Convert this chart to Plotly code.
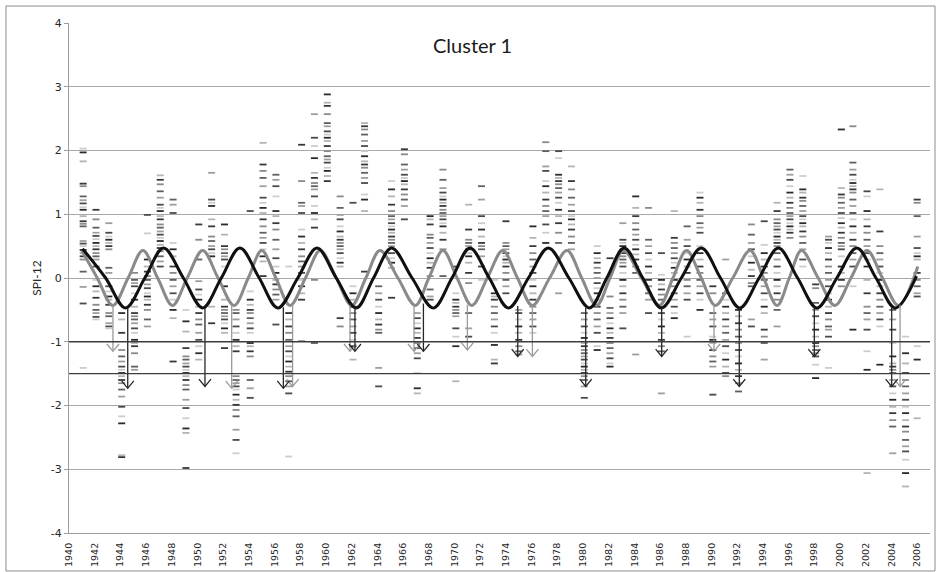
import plotly.graph_objects as go

# ---------------- data ----------------
col_years_1940s = [1941.1, 1942.1, 1943.1, 1944.1, 1945.1, 1946.1, 1947.1, 1948.1, 1949.1, 1950.1]
spi_1940s = [
    [2.03, 1.97, 1.83, 1.48, 1.44, 1.28, 1.22, 1.17, 1.11, 1.07, 0.97, 0.89, 0.85, 0.81, 0.58, 0.54, 0.50, 0.44, 0.39, 0.34, 0.29, 0.10, -0.14, -0.40, -1.41],
    [1.07, 0.92, 0.79, 0.71, 0.66, 0.61, 0.55, 0.50, 0.45, 0.39, 0.34, 0.29, 0.18, -0.03, -0.13, -0.21, -0.31, -0.42, -0.50, -0.55, -0.61, -0.65],
    [0.86, 0.71, 0.65, 0.60, 0.55, 0.50, 0.45, 0.16, 0.08, -0.13, -0.21, -0.29, -0.34, -0.42, -0.55, -0.60, -0.71, -0.76, -0.79],
    [-0.55, -0.65, -0.86, -1.13, -1.23, -1.31, -1.39, -1.44, -1.49, -1.54, -1.60, -1.65, -1.75, -1.86, -2.02, -2.17, -2.28, -2.78, -2.81],
    [0.08, -0.03, -0.08, -0.13, -0.24, -0.34, -0.45, -0.55, -0.60, -0.65, -0.71, -0.79, -0.86, -0.97, -1.02, -1.07, -1.18, -1.39, -1.44],
    [0.99, 0.70, 0.29, 0.18, 0.10, 0.03, -0.03, -0.10, -0.16, -0.24, -0.29, -0.34, -0.42, -0.50, -0.65, -0.76],
    [1.61, 1.54, 1.47, 1.36, 1.26, 1.15, 1.10, 1.05, 0.97, 0.92, 0.84, 0.79, 0.73, 0.68, 0.63, 0.58, 0.52, 0.47, 0.42, 0.34, 0.26, 0.18],
    [1.23, 1.15, 1.02, 0.55, 0.45, 0.34, 0.18, 0.08, -0.03, -0.13, -0.24, -0.34, -0.50, -0.63, -1.31],
    [-0.50, -0.68, -0.84, -1.10, -1.23, -1.28, -1.34, -1.39, -1.44, -1.49, -1.54, -1.60, -1.68, -1.75, -1.91, -2.04, -2.20, -2.36, -2.43, -2.98],
    [0.84, 0.60, 0.29, -0.05, -0.18, -0.26, -0.34, -0.45, -0.55, -0.65, -0.73, -0.86, -0.97, -1.07, -1.18, -1.28],
]
col_years_1950s = [1951.1, 1952.1, 1953.0, 1954.1, 1955.1, 1956.1, 1957.1, 1958.1, 1959.1, 1960.1]
spi_1950s = [
    [1.65, 1.23, 1.18, 1.13, 0.92, 0.81, 0.65, 0.58, 0.50, 0.45, 0.39, 0.34, -0.45, -0.71],
    [0.84, 0.68, 0.50, 0.45, 0.39, 0.34, 0.29, 0.18, -0.13, -0.34, -0.45, -0.50, -0.55, -0.60, -0.65, -0.71, -0.79, -0.86, -1.10],
    [-0.50, -0.55, -0.65, -0.76, -0.86, -0.97, -1.07, -1.15, -1.54, -1.60, -1.65, -1.70, -1.75, -1.83, -1.91, -1.99, -2.07, -2.17, -2.38, -2.54, -2.75],
    [1.05, -0.21, -0.34, -0.42, -0.50, -0.55, -0.63, -0.71, -0.79, -0.86, -1.02, -1.07, -1.15, -1.23, -1.60, -1.73, -1.88],
    [2.12, 1.78, 1.68, 1.57, 1.44, 1.26, 1.18, 1.10, 1.02, 0.92, 0.81, 0.71, 0.63, 0.55, 0.45, 0.34, 0.26, 0.03],
    [1.62, 1.54, 1.44, 1.28, 1.05, 0.97, 0.86, 0.76, 0.60, 0.45, 0.31, 0.18, 0.08, -0.03, -0.10, -0.18, -0.26, -0.34, -0.73],
    [0.18, -0.55, -0.65, -0.76, -0.86, -0.97, -1.07, -1.15, -1.23, -1.31, -1.39, -1.47, -1.54, -1.62, -1.70, -1.81, -2.80],
    [2.09, 1.52, 1.18, 1.13, 1.02, 0.76, 0.65, 0.55, 0.45, 0.34, 0.26, 0.18, 0.08, -0.03, -0.13, -0.24, -0.34, -0.99],
    [2.57, 2.20, 2.07, 1.88, 1.65, 1.57, 1.49, 1.44, 1.39, 1.28, 1.13, 1.02, 0.92, 0.79, -0.03, -1.02],
    [2.88, 2.75, 2.70, 2.57, 2.43, 2.38, 2.30, 2.25, 2.20, 2.15, 2.07, 1.99, 1.91, 1.86, 1.81, 1.73, 1.68, 1.60, 1.52],
]
col_years_1960s = [1961.1, 1962.1, 1963.0, 1964.1, 1965.1, 1966.1, 1967.1, 1968.1, 1969.1, 1970.1]
spi_1960s = [
    [1.28, 1.10, 0.99, 0.92, 0.81, 0.73, 0.65, 0.60, 0.55, 0.50, 0.45, 0.39, 0.31, 0.24, 0.18, -0.63, -0.76],
    [1.18, -0.13, -0.24, -0.34, -0.45, -0.55, -0.65, -0.76, -0.86, -0.97, -1.07, -1.28],
    [2.43, 2.38, 2.33, 2.25, 2.15, 2.07, 1.99, 1.91, 1.83, 1.78, 1.73, 1.65, 1.57, 1.49, 1.31, 1.23, 1.05, 0.10],
    [-0.13, -0.24, -0.34, -0.45, -0.55, -0.65, -0.73, -0.81, -0.86, -1.41, -1.70],
    [1.52, 1.39, 1.28, 1.15, 1.05, 0.97, 0.92, 0.86, 0.81, 0.76, 0.71, 0.65, 0.60, 0.55, 0.50, 0.39, 0.31, 0.24, 0.16, -0.31],
    [2.02, 1.94, 1.78, 1.70, 1.62, 1.57, 1.52, 1.47, 1.39, 1.31, 1.23, 1.13, 0.92],
    [-0.55, -0.63, -0.71, -0.79, -0.86, -0.94, -1.02, -1.10, -1.18, -1.26, -1.49, -1.73, -1.81],
    [0.97, 0.92, 0.84, 0.68, 0.63, 0.55, 0.47, 0.39, 0.31, 0.24, 0.16, 0.03, -0.18, -0.29, -0.34],
    [1.70, 1.54, 1.41, 1.34, 1.28, 1.23, 1.18, 1.13, 1.07, 1.02, 0.97, 0.92, 0.86, 0.81, 0.71, 0.60, 0.45, 0.03],
    [0.18, -0.24, -0.34, -0.39, -0.45, -0.50, -0.55, -0.60, -0.79, -0.92, -1.07, -1.62],
]
col_years_1970s = [1971.1, 1972.1, 1973.1, 1974.0, 1975.0, 1976.1, 1977.1, 1978.1, 1979.1, 1980.1]
spi_1970s = [
    [1.15, 0.76, 0.60, 0.55, 0.50, 0.45, 0.39, 0.34, 0.24, 0.08, -0.08, -0.55, -0.79, -0.92],
    [1.44, 1.23, 0.97, 0.86, 0.76, 0.65, 0.55, 0.50, 0.45, 0.34, 0.18, -0.03],
    [-0.03, -0.24, -0.29, -0.34, -0.45, -0.55, -0.65, -0.76, -0.86, -1.05, -1.28, -1.34],
    [0.89, 0.55, 0.50, 0.45, 0.39, 0.34, 0.29, 0.24, 0.18, 0.08, -0.03, -0.13, -0.24],
    [-0.50, -0.55, -0.65, -0.76, -0.86, -0.97, -1.07, -1.15, -1.20],
    [0.81, 0.63, 0.50, 0.39, 0.29, 0.18, 0.08, -0.03, -0.13, -0.24, -0.34, -0.45, -0.55, -0.65, -0.76, -0.86],
    [2.13, 1.99, 1.75, 1.68, 1.52, 1.44, 1.34, 1.23, 1.13, 1.05, 0.97, 0.84, 0.71, 0.55],
    [1.99, 1.88, 1.62, 1.57, 1.52, 1.47, 1.41, 1.34, 1.26, 1.18, 1.07, 0.97, 0.86, 0.71, 0.55, -0.24],
    [1.75, 1.52, 1.39, 1.26, 1.15, 1.05, 0.97, 0.92, 0.84, 0.76, 0.65, 0.55, 0.45],
    [-0.55, -0.65, -0.76, -0.86, -0.94, -1.02, -1.07, -1.13, -1.18, -1.23, -1.28, -1.34, -1.39, -1.44, -1.49, -1.54, -1.60, -1.70, -1.88],
]
col_years_1980s = [1981.1, 1982.1, 1983.1, 1984.1, 1985.1, 1986.1, 1987.1, 1988.1, 1989.1, 1990.1]
spi_1980s = [
    [0.50, 0.39, 0.31, 0.24, 0.16, 0.08, 0.00, -0.08, -0.16, -0.24, -0.34, -0.45, -0.55, -0.65, -0.76, -0.86, -1.07, -1.13],
    [0.31, -0.29, -0.47, -0.55, -0.63, -0.71, -0.79, -0.86, -0.94, -1.02, -1.10, -1.18, -1.26, -1.34, -1.39],
    [0.86, 0.60, 0.55, 0.50, 0.45, 0.39, 0.34, 0.29, 0.24, 0.18, 0.08, -0.03, -0.13, -0.24, -0.34, -0.45, -0.55, -0.79],
    [1.28, 1.10, 0.97, 0.86, 0.76, 0.68, 0.60, 0.52, 0.45, 0.37, 0.29, 0.18, 0.08, -1.20],
    [1.10, 0.60, 0.50, 0.39, 0.29, 0.18, 0.08, -0.03, -0.13, -0.24, -0.34, -0.55],
    [0.39, 0.05, -0.03, -0.10, -0.18, -0.26, -0.34, -0.45, -0.55, -0.65, -0.76, -0.86, -0.97, -1.07, -1.15, -1.81],
    [1.05, 0.63, 0.55, 0.47, 0.39, 0.31, 0.24, 0.16, 0.08, -0.03, -0.13, -0.24, -0.34, -0.45, -0.55, -0.63],
    [0.81, 0.60, 0.50, 0.39, 0.29, 0.18, 0.08, -0.03, -0.13, -0.24, -0.34, -0.92],
    [1.34, 1.26, 1.18, 1.07, 0.97, 0.86, 0.79, 0.71, 0.50, 0.39, 0.29, 0.18, 0.08, -0.03, -0.13, -0.24, -0.34, -0.50],
    [-0.13, -0.24, -0.55, -0.65, -0.76, -0.92, -0.97, -1.02, -1.13, -1.23, -1.31, -1.39, -1.83],
]
col_years_1990s = [1991.1, 1992.1, 1993.1, 1994.1, 1995.1, 1996.1, 1997.1, 1998.1, 1999.1, 2000.1]
spi_1990s = [
    [0.29, -0.24, -0.34, -0.45, -0.55, -0.65, -0.76, -0.86, -0.97, -1.07, -1.18, -1.28, -1.39, -1.49, -1.54],
    [-0.50, -0.60, -0.71, -0.81, -0.92, -1.02, -1.13, -1.23, -1.34, -1.44, -1.54, -1.65, -1.78],
    [0.84, 0.68, 0.55, 0.45, 0.34, 0.24, 0.13, 0.03, -0.08, -0.13, -0.65, -0.76],
    [0.89, 0.52, 0.39, 0.29, 0.18, 0.08, -0.03, -0.13, -0.24, -0.34, -0.45, -0.55, -0.81, -0.92, -1.02, -1.28],
    [1.18, 1.05, 0.92, 0.86, 0.81, 0.76, 0.71, 0.65, 0.60, 0.55, 0.50, 0.39, 0.29, 0.18, 0.08, -0.03, -0.13, -0.24, -0.34, -0.50, -0.76],
    [1.70, 1.62, 1.54, 1.44, 1.34, 1.26, 1.18, 1.10, 1.02, 0.97, 0.92, 0.86, 0.81, 0.76, 0.71, 0.63],
    [1.60, 1.39, 1.34, 1.26, 1.21, 1.13, 1.05, 0.97, 0.92, 0.86, 0.81, 0.73, 0.65, 0.55, 0.45, 0.29, 0.18],
    [-0.10, -0.16, -0.39, -0.50, -0.60, -0.71, -0.81, -0.92, -1.02, -1.07, -1.13, -1.18, -1.23, -1.36, -1.57],
    [0.65, 0.60, 0.55, 0.47, 0.39, 0.29, 0.18, 0.08, -0.03, -0.13, -0.24, -0.34, -0.45, -0.55, -0.65, -0.76, -0.81, -0.92, -1.41],
    [2.33, 1.41, 1.31, 1.26, 1.18, 1.10, 1.02, 0.94, 0.86, 0.79, 0.71, 0.63, 0.55, 0.50, 0.45, 0.34, 0.18, 0.08, -0.03, -0.13],
]
col_years_2000s = [2001.0, 2002.1, 2003.1, 2004.1, 2005.1, 2006.0]
spi_2000s = [
    [2.38, 1.81, 1.70, 1.62, 1.54, 1.49, 1.44, 1.39, 1.34, 1.23, 1.13, 1.02, 0.92, 0.81, 0.71, 0.60, 0.50, 0.39, 0.29, 0.18, -0.13, -0.81],
    [1.36, 1.28, 1.05, 0.92, 0.81, 0.71, 0.60, 0.50, 0.39, 0.29, 0.18, -0.03, -0.24, -0.45, -0.55, -0.65, -0.81, -1.15, -1.44, -3.06],
    [1.39, 0.73, 0.50, 0.39, 0.29, 0.18, 0.08, -0.03, -0.13, -0.24, -0.34, -0.45, -0.55, -0.65, -0.76, -1.36],
    [-0.50, -0.65, -0.81, -1.02, -1.23, -1.34, -1.39, -1.44, -1.49, -1.60, -1.70, -1.81, -1.91, -2.02, -2.12, -2.23, -2.33, -2.75],
    [-0.92, -1.18, -1.34, -1.49, -1.60, -1.70, -1.81, -1.91, -2.02, -2.12, -2.23, -2.33, -2.41, -2.54, -2.64, -2.72, -2.85, -3.06, -3.27],
    [1.23, 1.18, 0.97, 0.65, 0.47, 0.39, 0.34, 0.29, 0.08, -0.03, -0.13, -0.24, -0.29, -1.07, -1.28, -2.20],
]

# fitted cycle curves: peaks, zero crossings and troughs
black_cycle_x = [1941.05, 1942.85, 1944.4, 1945.9, 1947.35, 1948.9, 1950.4, 1951.85, 1953.3, 1954.8,
                 1956.25, 1957.8, 1959.3, 1960.8, 1962.35, 1963.7, 1965.1, 1966.7, 1968.35, 1969.8,
                 1971.2, 1972.7, 1974.2, 1975.75, 1977.3, 1978.9, 1980.5, 1981.85, 1983.2, 1984.65,
                 1986.1, 1987.65, 1989.2, 1990.7, 1992.2, 1993.7, 1995.2, 1996.7, 1998.2, 1999.75,
                 2001.3, 2002.8, 2004.3, 2005.95]
black_cycle_y = [0.46, 0.0, -0.47, 0.0, 0.47, 0.0, -0.47, 0.0, 0.47, 0.0,
                 -0.47, 0.0, 0.47, 0.0, -0.47, 0.0, 0.47, 0.0, -0.47, 0.0,
                 0.47, 0.0, -0.47, 0.0, 0.47, 0.0, -0.47, 0.0, 0.47, 0.0,
                 -0.47, 0.0, 0.47, 0.0, -0.47, 0.0, 0.47, 0.0, -0.47, 0.0,
                 0.47, 0.0, -0.47, 0.03]
gray_cycle_x = [1941.0, 1942.2, 1943.4, 1944.6, 1945.75, 1946.9, 1948.05, 1949.2, 1950.4, 1951.6,
                1952.85, 1953.95, 1955.0, 1956.1, 1957.2, 1958.4, 1959.55, 1960.8, 1962.0, 1963.1,
                1964.2, 1965.6, 1966.95, 1968.0, 1969.1, 1970.2, 1971.35, 1972.55, 1973.75, 1974.9,
                1976.05, 1977.4, 1978.75, 1979.9, 1981.05, 1982.1, 1983.15, 1984.55, 1985.95, 1987.0,
                1988.05, 1989.2, 1990.3, 1991.65, 1993.0, 1994.05, 1995.1, 1996.05, 1997.0, 1998.3,
                1999.6, 2000.85, 2002.1, 2003.3, 2004.55, 2006.05]
gray_cycle_y = [0.43, 0.0, -0.43, 0.0, 0.43, 0.0, -0.43, 0.0, 0.43, 0.0,
                -0.43, 0.0, 0.43, 0.0, -0.43, 0.0, 0.43, 0.0, -0.43, 0.0,
                0.43, 0.0, -0.43, 0.0, 0.43, 0.0, -0.43, 0.0, 0.43, 0.0,
                -0.43, 0.0, 0.43, 0.0, -0.43, 0.0, 0.43, 0.0, -0.43, 0.0,
                0.43, 0.0, -0.43, 0.0, 0.43, 0.0, -0.43, 0.0, 0.43, 0.0,
                -0.43, 0.0, 0.43, 0.0, -0.43, 0.18]

# drought arrows: x position, start value (on the curve), tip value
black_arrow_x = [1944.57, 1950.58, 1956.68, 1962.25, 1967.58, 1974.92, 1980.21, 1986.12, 1992.16, 1998.0, 2004.02]
black_arrow_from = [-0.47, -0.47, -0.46, -0.46, -0.40, -0.44, -0.46, -0.47, -0.47, -0.46, -0.46]
black_arrow_to = [-1.73, -1.70, -1.73, -1.15, -1.15, -1.23, -1.70, -1.23, -1.70, -1.23, -1.70]
gray_arrow_x = [1943.42, 1952.66, 1957.4, 1961.87, 1966.85, 1971.0, 1976.06, 1990.19, 2004.67]
gray_arrow_from = [-0.43, -0.42, -0.41, -0.43, -0.43, -0.42, -0.43, -0.43, -0.42]
gray_arrow_to = [-1.15, -1.73, -1.70, -1.15, -1.15, -1.13, -1.23, -1.15, -1.70]

thresholds = [-1.0, -1.5]
x_ticks = list(range(1940, 2007, 2))
y_ticks = [-4, -3, -2, -1, 0, 1, 2, 3, 4]

# ---------------- figure ----------------
fig = go.Figure()

shades = ['#2a2a2a', '#8a8a8a', '#4a4a4a', '#b4b4b4', '#606060', '#cccccc', '#383838', '#9e9e9e']
px, py, pc = [], [], []
for yrs, vals in [(col_years_1940s, spi_1940s), (col_years_1950s, spi_1950s),
                  (col_years_1960s, spi_1960s), (col_years_1970s, spi_1970s),
                  (col_years_1980s, spi_1980s), (col_years_1990s, spi_1990s),
                  (col_years_2000s, spi_2000s)]:
    for yr, col in zip(yrs, vals):
        for i, v in enumerate(col):
            px.append(yr)
            py.append(v)
            pc.append(shades[(i * 3 + int(yr)) % len(shades)])

fig.add_trace(go.Scatter(
    x=px, y=py, mode='markers', hoverinfo='skip', showlegend=False,
    marker=dict(symbol='line-ew', size=5, color=pc, line=dict(width=1.8, color=pc))))

for t in thresholds:
    fig.add_shape(type='line', xref='paper', yref='y', x0=0, x1=1, y0=t, y1=t,
                  line=dict(color='#3c3c3c', width=1.4), layer='above')

fig.add_trace(go.Scatter(x=gray_cycle_x, y=gray_cycle_y, mode='lines', showlegend=False,
                         hoverinfo='skip',
                         line=dict(color='#8a8a8a', width=3, shape='spline', smoothing=1.0)))
fig.add_trace(go.Scatter(x=black_cycle_x, y=black_cycle_y, mode='lines', showlegend=False,
                         hoverinfo='skip',
                         line=dict(color='#101010', width=3, shape='spline', smoothing=1.0)))

# arrows: shaft plus an open "V" head (head size in data units ~ 6 px wide, 7 px tall)
head_dx = 0.47
head_dy = 0.115
for xs, y0s, y1s, colr in [(gray_arrow_x, gray_arrow_from, gray_arrow_to, '#9a9a9a'),
                           (black_arrow_x, black_arrow_from, black_arrow_to, '#262626')]:
    ax_, ay_ = [], []
    for x, a, b in zip(xs, y0s, y1s):
        ax_ += [x, x, None, x - head_dx, x, x + head_dx, None]
        ay_ += [a, b, None, b + head_dy, b, b + head_dy, None]
    fig.add_trace(go.Scatter(x=ax_, y=ay_, mode='lines', showlegend=False, hoverinfo='skip',
                             line=dict(color=colr, width=1.3)))

anns = [dict(text='Cluster 1', xref='paper', yref='paper', x=0.469, y=0.957,
             showarrow=False, font=dict(family='Lato', size=20, color='#1a1a1a'),
             xanchor='center', yanchor='middle')]

# outer chart border
fig.add_shape(type='rect', xref='paper', yref='paper', x0=-0.0732, x1=1.0058, y0=-0.0745, y1=1.0333,
              line=dict(color='#8c8c8c', width=1), fillcolor='rgba(0,0,0,0)', layer='below')

fig.update_layout(
    width=936, height=572,
    margin=dict(l=69, r=6, t=23, b=39),
    paper_bgcolor='white', plot_bgcolor='white',
    annotations=anns,
    font=dict(family='DejaVu Sans', color='#262626'),
    xaxis=dict(range=[1940, 2007], tickmode='array', tickvals=x_ticks,
               ticktext=[str(v) for v in x_ticks], tickangle=-90,
               tickfont=dict(size=9.5, family='DejaVu Sans', color='#262626'),
               showgrid=False, zeroline=False, showline=True, linecolor='#9c9c9c', linewidth=1,
               ticks='outside', ticklen=5, tickcolor='rgba(0,0,0,0)'),
    yaxis=dict(range=[-4, 4], tickmode='array', tickvals=y_ticks,
               ticktext=[str(v) for v in y_ticks],
               tickfont=dict(size=11, family='DejaVu Sans', color='#262626'),
               showgrid=True, gridcolor='#a8a8a8', gridwidth=1, zeroline=False,
               showline=True, linecolor='#9c9c9c', linewidth=1,
               ticks='outside', ticklen=4, tickcolor='#9c9c9c',
               title=dict(text='SPI-12', font=dict(size=12, family='Lato', color='#262626'), standoff=6)),
)

fig.write_html('out.html', config={'displayModeBar': False},
               post_script="document.body.style.margin='0';document.body.style.overflow='hidden';")
